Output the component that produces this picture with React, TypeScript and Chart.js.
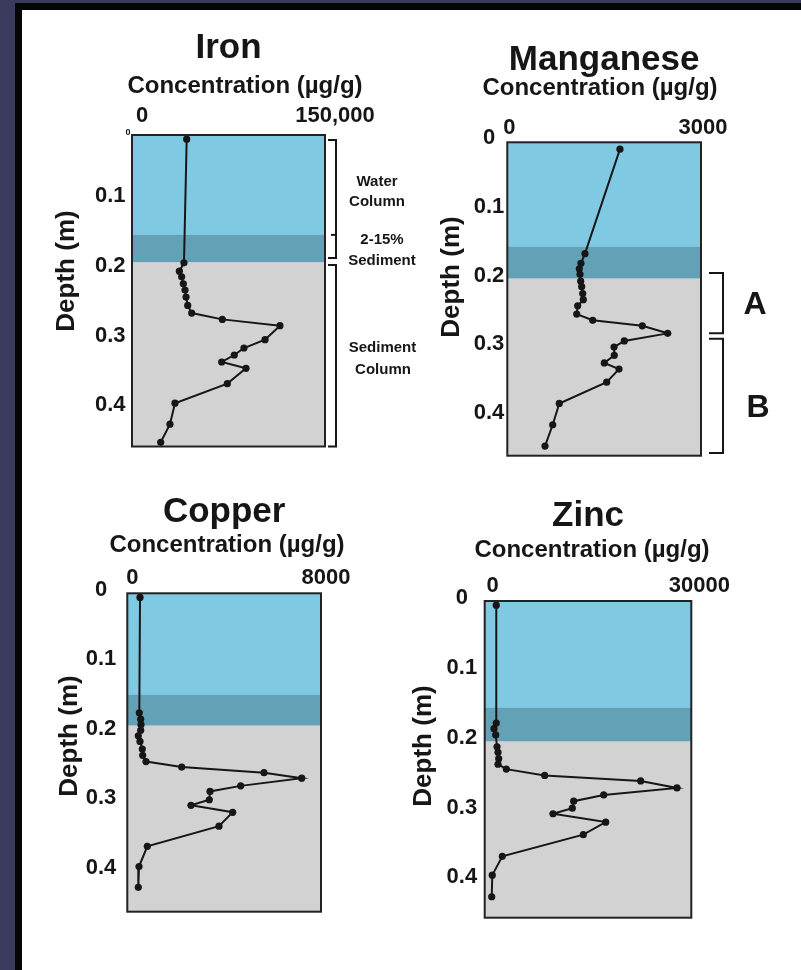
import React, { useEffect, useRef } from "react";
import { Chart, registerables } from "chart.js";

Chart.register(...registerables);

const FONT = '"Liberation Sans", Arial, Helvetica, sans-serif';
const INK = "#161616";
const WATER = "#80c9e2";
const MIX = "#63a2b6";
const SEDIMENT = "#d2d2d2";

// ---------------- data ----------------
const ironDepth = [0.019, 0.196, 0.208, 0.216, 0.226, 0.235, 0.245, 0.257, 0.268, 0.277, 0.286, 0.306, 0.318, 0.328, 0.338, 0.347, 0.369, 0.397, 0.427, 0.453];
const ironConc = [42500, 40400, 36800, 38600, 39900, 41200, 42000, 43300, 46400, 70200, 115000, 103400, 87000, 79500, 69700, 88600, 74100, 33400, 29500, 22300];
const ironXTicks = [0, 150000];
const ironXLabels = ["0", "150,000"];
const ironYTicks = [0.1, 0.2, 0.3, 0.4];
const ironYLabels = ["0.1", "0.2", "0.3", "0.4"];
const ironRange = [0.013, 0.459];
const ironZones = [0.156, 0.195];
const ironBrackets = [[0.02, 0.189], [0.199, 0.459]];
const ironNotch = [0.156];
const ironNotes = ["Water", "Column", "2-15%", "Sediment", "Sediment", "Column"];

const mnDepth = [0.016, 0.168, 0.182, 0.19, 0.198, 0.208, 0.216, 0.226, 0.235, 0.244, 0.256, 0.265, 0.273, 0.284, 0.295, 0.304, 0.316, 0.327, 0.336, 0.355, 0.386, 0.417, 0.448];
const mnConc = [1745, 1203, 1141, 1115, 1126, 1137, 1152, 1168, 1177, 1090, 1075, 1323, 2091, 2484, 1812, 1653, 1657, 1502, 1730, 1539, 805, 703, 584];
const mnXTicks = [0, 3000];
const mnXLabels = ["0", "3000"];
const mnYTicks = [0, 0.1, 0.2, 0.3, 0.4];
const mnYLabels = ["0", "0.1", "0.2", "0.3", "0.4"];
const mnRange = [0.006, 0.462];
const mnZones = [0.158, 0.204];
const mnBrackets = [[0.196, 0.284], [0.292, 0.458]];
const mnBracketLabels = ["A", "B"];

const cuDepth = [0.011, 0.177, 0.186, 0.194, 0.202, 0.21, 0.218, 0.229, 0.238, 0.247, 0.255, 0.263, 0.271, 0.282, 0.29, 0.302, 0.31, 0.32, 0.34, 0.369, 0.398, 0.428];
const cuConc = [525, 496, 553, 566, 553, 454, 525, 620, 636, 772, 2247, 5646, 7203, 4683, 3416, 3387, 2631, 4353, 3787, 826, 483, 454];
const cuXTicks = [0, 8000];
const cuXLabels = ["0", "8000"];
const cuYTicks = [0, 0.1, 0.2, 0.3, 0.4];
const cuYLabels = ["0", "0.1", "0.2", "0.3", "0.4"];
const cuRange = [0.005, 0.463];
const cuZones = [0.151, 0.195];

const znDepth = [0.01, 0.179, 0.187, 0.196, 0.213, 0.221, 0.23, 0.238, 0.245, 0.254, 0.262, 0.272, 0.282, 0.291, 0.301, 0.309, 0.321, 0.339, 0.37, 0.397, 0.428];
const znConc = [1680, 1680, 1350, 1600, 1790, 1930, 2030, 1930, 3140, 8710, 22650, 27920, 17280, 12920, 12720, 9920, 17570, 14320, 2560, 1100, 1020];
const znXTicks = [0, 30000];
const znXLabels = ["0", "30000"];
const znYTicks = [0, 0.1, 0.2, 0.3, 0.4];
const znYLabels = ["0", "0.1", "0.2", "0.3", "0.4"];
const znRange = [0.004, 0.458];
const znZones = [0.157, 0.205];

const concTitle = "Concentration (\u00b5g/g)";
const depthTitle = "Depth (m)";

// ---------------- layout ----------------
type Rect = { left: number; top: number; width: number; height: number };
type Box = { left: number; right: number; top: number; bottom: number };

interface PanelSpec {
  name: string;
  depth: number[];
  conc: number[];
  xTicks: number[];
  xLabels: string[];
  yTicks: number[];
  yLabels: string[];
  range: number[];
  zones: number[];
  canvas: Rect;
  box: Box;
  titleY: number;
  xTickPad: number;
  xLabelOffset: number;
  yTickPad: number;
  concPos: [number, number];
  depthPos: [number, number];
  extra?: (ctx: CanvasRenderingContext2D, chart: any, P: (x: number, y: number) => [number, number]) => void;
}

function text(ctx: CanvasRenderingContext2D, s: string, x: number, y: number, size: number, rot = 0) {
  ctx.save();
  ctx.translate(x, y);
  if (rot) ctx.rotate(rot);
  ctx.font = `bold ${size}px ${FONT}`;
  ctx.fillStyle = INK;
  ctx.textAlign = "center";
  ctx.textBaseline = "middle";
  ctx.fillText(s, 0, 0);
  ctx.restore();
}

function bracket(ctx: CanvasRenderingContext2D, x: number, stubFrom: number, y1: number, y2: number) {
  ctx.beginPath();
  ctx.moveTo(stubFrom, y1);
  ctx.lineTo(x, y1);
  ctx.lineTo(x, y2);
  ctx.lineTo(stubFrom, y2);
  ctx.stroke();
}

const panels: PanelSpec[] = [
  {
    name: "Iron",
    depth: ironDepth, conc: ironConc, xTicks: ironXTicks, xLabels: ironXLabels,
    yTicks: ironYTicks, yLabels: ironYLabels, range: ironRange, zones: ironZones,
    canvas: { left: 22, top: 10, width: 398, height: 460 },
    box: { left: 132, right: 325, top: 135, bottom: 446.5 },
    titleY: 48.5, xTickPad: 6, xLabelOffset: 10, yTickPad: 6.5,
    concPos: [245, 86.5], depthPos: [67, 271],
    extra: (ctx, chart, P) => {
      const a = chart.chartArea;
      const y = chart.scales.y;
      ctx.save();
      ctx.strokeStyle = INK;
      ctx.lineWidth = 2;
      const bx = a.right + 11;
      ironBrackets.forEach(([d1, d2]) => {
        bracket(ctx, bx, a.right + 3, y.getPixelForValue(d1), y.getPixelForValue(d2));
      });
      ironNotch.forEach((d) => {
        const py = y.getPixelForValue(d);
        ctx.beginPath();
        ctx.moveTo(bx - 5, py);
        ctx.lineTo(bx + 1, py);
        ctx.stroke();
      });
      ctx.restore();
      const pos: [number, number][] = [[377, 182], [377, 202], [382, 240], [382, 260.5], [382.5, 348], [383, 370]];
      ironNotes.forEach((s, i) => {
        const [x, yy] = P(pos[i][0], pos[i][1]);
        text(ctx, s, x, yy, 15);
      });
      const [zx, zy] = P(128, 133);
      text(ctx, "0", zx, zy, 9);
    },
  },
  {
    name: "Manganese",
    depth: mnDepth, conc: mnConc, xTicks: mnXTicks, xLabels: mnXLabels,
    yTicks: mnYTicks, yLabels: mnYLabels, range: mnRange, zones: mnZones,
    canvas: { left: 420, top: 10, width: 381, height: 460 },
    box: { left: 507.3, right: 701, top: 142.3, bottom: 455.7 },
    titleY: 60, xTickPad: 1, xLabelOffset: 2, yTickPad: 3,
    concPos: [600, 88.5], depthPos: [452, 277],
    extra: (ctx, chart, P) => {
      const a = chart.chartArea;
      const y = chart.scales.y;
      ctx.save();
      ctx.strokeStyle = INK;
      ctx.lineWidth = 2;
      const bx = a.right + 22;
      mnBrackets.forEach(([d1, d2]) => {
        bracket(ctx, bx, a.right + 8, y.getPixelForValue(d1), y.getPixelForValue(d2));
      });
      ctx.restore();
      const pos: [number, number][] = [[755, 305], [758, 408]];
      mnBracketLabels.forEach((s, i) => {
        const [x, yy] = P(pos[i][0], pos[i][1]);
        text(ctx, s, x, yy, 32);
      });
    },
  },
  {
    name: "Copper",
    depth: cuDepth, conc: cuConc, xTicks: cuXTicks, xLabels: cuXLabels,
    yTicks: cuYTicks, yLabels: cuYLabels, range: cuRange, zones: cuZones,
    canvas: { left: 22, top: 480, width: 378, height: 480 },
    box: { left: 127.3, right: 321, top: 593.3, bottom: 911.7 },
    titleY: 512.5, xTickPad: 2, xLabelOffset: 5, yTickPad: 11,
    concPos: [227, 545], depthPos: [70, 736],
  },
  {
    name: "Zinc",
    depth: znDepth, conc: znConc, xTicks: znXTicks, xLabels: znXLabels,
    yTicks: znYTicks, yLabels: znYLabels, range: znRange, zones: znZones,
    canvas: { left: 400, top: 480, width: 401, height: 480 },
    box: { left: 484.7, right: 691.3, top: 601, bottom: 917.7 },
    titleY: 516, xTickPad: 2, xLabelOffset: 8, yTickPad: 7.5,
    concPos: [592, 550.5], depthPos: [424, 746],
  },
];

function buildConfig(p: PanelSpec): any {
  const TITLE_SIZE = 35;
  const padRight = p.canvas.left + p.canvas.width - p.box.right;
  const padBottom = p.canvas.top + p.canvas.height - p.box.bottom;
  const yWidth = p.box.left - p.canvas.left;
  const titlePadTop = p.titleY - p.canvas.top - TITLE_SIZE / 2;
  const titleBottom = p.canvas.top + titlePadTop + TITLE_SIZE;
  const xHeight = p.box.top - titleBottom;
  const P = (x: number, y: number): [number, number] => [x - p.canvas.left, y - p.canvas.top];

  const decor = {
    id: "panelDecor",
    beforeDatasetsDraw(chart: any) {
      const { ctx, chartArea: a, scales } = chart;
      const yMix = scales.y.getPixelForValue(p.zones[0]);
      const ySed = scales.y.getPixelForValue(p.zones[1]);
      ctx.save();
      ctx.fillStyle = SEDIMENT;
      ctx.fillRect(a.left, a.top, a.width, a.height);
      ctx.fillStyle = WATER;
      ctx.fillRect(a.left, a.top, a.width, yMix - a.top);
      ctx.fillStyle = MIX;
      ctx.fillRect(a.left, yMix, a.width, ySed - yMix);
      ctx.strokeStyle = "#222";
      ctx.lineWidth = 2;
      ctx.strokeRect(a.left, a.top, a.width, a.height);
      ctx.restore();
    },
    afterDraw(chart: any) {
      const ctx = chart.ctx as CanvasRenderingContext2D;
      const [cx, cy] = P(p.concPos[0], p.concPos[1]);
      text(ctx, concTitle, cx, cy, 24);
      const [dx, dy] = P(p.depthPos[0], p.depthPos[1]);
      text(ctx, depthTitle, dx, dy, 26, -Math.PI / 2);
      if (p.extra) p.extra(ctx, chart, P);
    },
  };

  return {
    type: "scatter",
    data: {
      datasets: [
        {
          label: p.name,
          data: p.depth.map((d, i) => ({ x: p.conc[i], y: d })),
          showLine: true,
          borderColor: INK,
          borderWidth: 2,
          pointRadius: 3.6,
          pointBackgroundColor: INK,
          pointBorderColor: INK,
          pointBorderWidth: 0,
          clip: 8,
        },
      ],
    },
    options: {
      animation: false,
      responsive: false,
      devicePixelRatio: 1,
      events: [],
      layout: { padding: { left: 0, top: 0, right: padRight, bottom: padBottom } },
      plugins: {
        legend: { display: false },
        tooltip: { enabled: false },
        title: {
          display: true,
          text: p.name,
          fullSize: false,
          color: INK,
          font: { family: FONT, size: TITLE_SIZE, weight: "bold", lineHeight: 1 },
          padding: { top: titlePadTop, bottom: 0 },
        },
      },
      scales: {
        x: {
          type: "linear",
          position: "top",
          min: p.xTicks[0],
          max: p.xTicks[p.xTicks.length - 1],
          grid: { display: false, drawTicks: false },
          border: { display: false },
          afterBuildTicks: (s: any) => {
            s.ticks = p.xTicks.map((v) => ({ value: v }));
          },
          afterFit: (s: any) => {
            s.height = xHeight;
            s.paddingLeft = 0;
            s.paddingRight = 0;
          },
          ticks: {
            autoSkip: false,
            maxRotation: 0,
            minRotation: 0,
            padding: p.xTickPad,
            labelOffset: p.xLabelOffset,
            color: INK,
            font: { family: FONT, size: 22, weight: "bold" },
            callback: (_v: any, i: number) => p.xLabels[i],
          },
        },
        y: {
          type: "linear",
          position: "left",
          reverse: true,
          min: p.range[0],
          max: p.range[1],
          grid: { display: false, drawTicks: false },
          border: { display: false },
          afterBuildTicks: (s: any) => {
            s.ticks = p.yTicks.map((v) => ({ value: v }));
          },
          afterFit: (s: any) => {
            s.width = yWidth;
            s.paddingTop = 0;
            s.paddingBottom = 0;
          },
          ticks: {
            autoSkip: false,
            crossAlign: "center",
            padding: p.yTickPad,
            color: INK,
            font: { family: FONT, size: 22, weight: "bold" },
            callback: (_v: any, i: number) => p.yLabels[i],
          },
        },
      },
    },
    plugins: [decor],
  };
}

function Panel({ spec }: { spec: PanelSpec }) {
  const ref = useRef<HTMLCanvasElement | null>(null);
  useEffect(() => {
    if (!ref.current) return;
    const chart = new Chart(ref.current, buildConfig(spec));
    return () => chart.destroy();
  }, [spec]);
  return (
    <canvas
      ref={ref}
      width={spec.canvas.width}
      height={spec.canvas.height}
      style={{
        position: "absolute",
        left: spec.canvas.left,
        top: spec.canvas.top,
        width: spec.canvas.width,
        height: spec.canvas.height,
      }}
    />
  );
}

export default function App() {
  const NAVY = "#3b3b5d";
  return (
    <div
      style={{
        position: "absolute",
        left: 0,
        top: 0,
        width: 801,
        height: 970,
        background: "#ffffff",
        overflow: "hidden",
      }}
    >
      <div style={{ position: "absolute", left: 0, top: 0, width: 801, height: 3, background: NAVY }} />
      <div style={{ position: "absolute", left: 0, top: 0, width: 15, height: 970, background: NAVY }} />
      <div style={{ position: "absolute", left: 15, top: 3, width: 786, height: 7, background: "#050505" }} />
      <div style={{ position: "absolute", left: 15, top: 3, width: 7, height: 967, background: "#050505" }} />
      {panels.map((p) => (
        <Panel key={p.name} spec={p} />
      ))}
    </div>
  );
}
